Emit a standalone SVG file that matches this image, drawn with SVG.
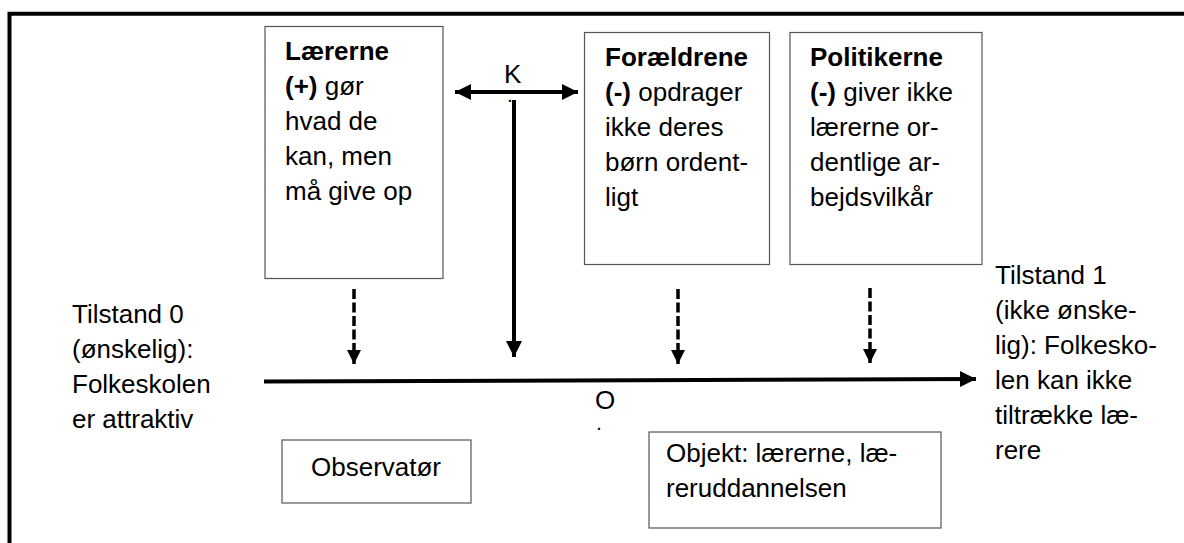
<svg xmlns="http://www.w3.org/2000/svg" width="1184" height="543" viewBox="0 0 1184 543">
<defs>
<style>
text{font-family:"Liberation Sans",Arial,sans-serif;font-size:26px;fill:#000}
.b{font-weight:bold}
.dot{font-size:14px;font-weight:bold}
.box{fill:#fff;stroke:#555;stroke-width:1.2}
.ln{stroke:#000;stroke-width:4;fill:none}
.ds{stroke:#000;stroke-width:3.5;fill:none;stroke-dasharray:10 3.5}
</style>
<marker id="ah" viewBox="0 0 10 10" refX="10" refY="5" markerWidth="4" markerHeight="4" markerUnits="strokeWidth" orient="auto-start-reverse">
<path d="M0,0 L10,5 L0,10 Z" fill="#000"/>
</marker>
</defs>
<rect width="1184" height="543" fill="#fff"/>
<path d="M9.5,543 V13.7 H1184" fill="none" stroke="#000" stroke-width="4"/>
<g id="laererne">
<rect class="box" x="265" y="26.5" width="178" height="252"/>
<text x="285" y="60"><tspan class="b">Lærerne</tspan><tspan x="285" dy="35"><tspan class="b">(+)</tspan> gør</tspan><tspan x="285" dy="35">hvad de</tspan><tspan x="285" dy="35">kan, men</tspan><tspan x="285" dy="35">må give op</tspan></text>
</g>
<g id="foraeldrene">
<rect class="box" x="584.5" y="32.5" width="185" height="232"/>
<text x="605" y="66"><tspan class="b">Forældrene</tspan><tspan x="605" dy="35"><tspan class="b">(-)</tspan> opdrager</tspan><tspan x="605" dy="35">ikke deres</tspan><tspan x="605" dy="35">børn ordent-</tspan><tspan x="605" dy="35">ligt</tspan></text>
</g>
<g id="politikerne">
<rect class="box" x="790" y="32.5" width="192" height="232"/>
<text x="810" y="66"><tspan class="b">Politikerne</tspan><tspan x="810" dy="35"><tspan class="b">(-)</tspan> giver ikke</tspan><tspan x="810" dy="35">lærerne or-</tspan><tspan x="810" dy="35">dentlige ar-</tspan><tspan x="810" dy="35">bejdsvilkår</tspan></text>
</g>
<g id="tilstand0">
<text x="72" y="323">Tilstand 0<tspan x="72" dy="35">(ønskelig):</tspan><tspan x="72" dy="35">Folkeskolen</tspan><tspan x="72" dy="35">er attraktiv</tspan></text>
</g>
<g id="tilstand1">
<text x="995" y="284">Tilstand 1<tspan x="995" dy="35">(ikke ønske-</tspan><tspan x="995" dy="35">lig): Folkesko-</tspan><tspan x="995" dy="35">len kan ikke</tspan><tspan x="995" dy="35">tiltrække læ-</tspan><tspan x="995" dy="35">rere</tspan></text>
</g>
<g id="k-label">
<text x="504" y="83">K</text>
<text class="dot" x="508" y="102">.</text>
</g>
<g id="o-label">
<text x="595" y="409">O</text>
<text class="dot" x="597" y="430">.</text>
</g>
<g id="observatoer">
<rect class="box" x="282" y="440" width="189" height="63"/>
<text x="311" y="476">Observatør</text>
</g>
<g id="objekt">
<rect class="box" x="649" y="432" width="292" height="96"/>
<text x="666" y="462">Objekt: lærerne, læ-<tspan x="666" dy="35">reruddannelsen</tspan></text>
</g>
<g id="connectors">
<line class="ln" x1="455" y1="92" x2="578" y2="92" marker-start="url(#ah)" marker-end="url(#ah)"/>
<line class="ln" x1="514" y1="100" x2="514" y2="357" marker-end="url(#ah)"/>
<line class="ds" x1="354" y1="289" x2="354" y2="364" marker-end="url(#ah)"/>
<line class="ds" x1="678" y1="289" x2="678" y2="364" marker-end="url(#ah)"/>
<line class="ds" x1="870" y1="288" x2="870" y2="363" marker-end="url(#ah)"/>
<line class="ln" x1="264" y1="381.5" x2="976" y2="379" marker-end="url(#ah)"/>
</g>
</svg>
